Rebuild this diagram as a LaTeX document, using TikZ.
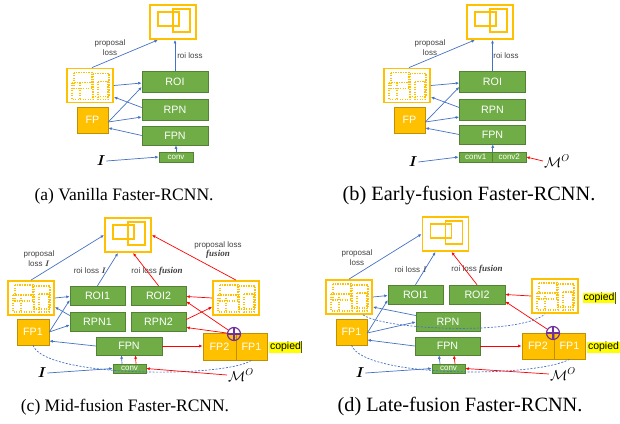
\documentclass[tikz,border=0pt]{standalone}
\usepackage{amsmath,amssymb}
\usepackage{bm}
\usepackage{fontspec}
\setmainfont{Liberation Serif}
\newfontfamily\boxfont{Liberation Sans}
\usetikzlibrary{arrows.meta}

\definecolor{boxyellow}{HTML}{FFC000}
\definecolor{fpborder}{HTML}{BF9000}
\definecolor{stagegreen}{HTML}{70AD47}
\definecolor{stageedge}{HTML}{548235}
\definecolor{flowblue}{HTML}{4472C4}
\definecolor{flowred}{HTML}{FF0000}
\definecolor{sumpurple}{HTML}{7030A0}
\definecolor{marker}{HTML}{FFFF00}

\newcommand{\fusionword}{{\rmfamily\bfseries\itshape\fontsize{9}{10}\selectfont fusion}}

\tikzset{
  stage/.style={draw=stageedge, line width=0.5pt, fill=stagegreen, text=white, inner sep=0pt,
    font={\boxfont\fontsize{10.7}{12}\selectfont}},
  convbox/.style={stage, font={\boxfont\fontsize{8}{9}\selectfont}},
  fpbox/.style={draw=fpborder, line width=0.6pt, fill=boxyellow, text=white, inner sep=0pt,
    font={\boxfont\fontsize{10.7}{12}\selectfont}},
  outbox/.style={draw=boxyellow, line width=1.8pt, fill=white, inner sep=0pt,
    minimum width=46pt, minimum height=34pt},
  note/.style={align=center, inner sep=0pt, text=black!75,
    font={\boxfont\fontsize{8}{9.3}\selectfont}},
  inlabel/.style={inner sep=1pt, font={\fontsize{14}{16}\selectfont}},
  copiedtag/.style={fill=marker, inner sep=0.6pt, font={\boxfont\fontsize{10.5}{12}\selectfont}},
  summer/.style={circle, draw=sumpurple, line width=1.2pt, minimum size=13pt, inner sep=0pt,
    path picture={\draw[sumpurple, line width=1.2pt]
      (path picture bounding box.north) -- (path picture bounding box.south)
      (path picture bounding box.west) -- (path picture bounding box.east);}},
  blueflow/.style={draw=flowblue, line width=0.7pt, -{Latex[length=3.5pt,width=3pt]}},
  redflow/.style={draw=flowred, line width=0.7pt, -{Latex[length=3.5pt,width=3pt]}},
  feedback/.style={draw=flowblue, line width=0.7pt, dash pattern=on 2pt off 1.5pt},
  cursorbar/.style={draw=black!70, line width=0.6pt},
  caption/.style={inner sep=0pt, font={\fontsize{17.5}{20}\selectfont}},
  widecaption/.style={inner sep=0pt, font={\fontsize{20.3}{23}\selectfont}}
}

% detections drawn inside the output box
\newcommand{\detmarks}[1]{%
  \begin{scope}[shift={(#1.center)}]
    \draw[boxyellow, line width=1.5pt] (-15,-10) rectangle (6,4);
    \draw[boxyellow, line width=1.5pt] (0,-13) rectangle (17,10);
  \end{scope}}
% dotted proposals inside the proposal box
\newcommand{\propmarks}[1]{%
  \begin{scope}[shift={(#1.center)}, boxyellow, line width=1.2pt, dash pattern=on 1.2pt off 1.3pt]
    \draw (-16,-13) rectangle (2,3);
    \draw (-18,-3) rectangle (3,14);
    \draw (-10,-3) -- (-10,14);
    \draw (3,-12) rectangle (19,11);
    \draw (8,-4) rectangle (18,14);
  \end{scope}}

\begin{document}
\begin{tikzpicture}[x=1pt, y=-1pt]
  \useasboundingbox (0,0) rectangle (620,423);

  % (a) vanilla
  \node[outbox] (outA) at (173,22) {}; \detmarks{outA}
  \node[outbox] (propA) at (90,85.5) {}; \propmarks{propA}
  \node[fpbox, minimum width=31pt, minimum height=26pt] (fpA) at (92.5,120) {FP};
  \node[stage, minimum width=66pt, minimum height=21pt] (roiA) at (175,82) {ROI};
  \node[stage, minimum width=66pt, minimum height=21pt] (rpnA) at (175,109.5) {RPN};
  \node[stage, minimum width=66pt, minimum height=19pt] (fpnA) at (175,135.5) {FPN};
  \node[convbox, minimum width=34pt, minimum height=10pt] (convA) at (176,157) {conv};
  \node[inlabel] (imgA) at (101,161) {$\bm{I}$};
  \node[note] (plA) at (110,47.5) {proposal\\loss};
  \node[note] (rlA) at (190,56) {roi loss};
  \draw[blueflow] (imgA.east) -- (convA.west);
  \draw[blueflow] (convA.north) -- (convA.north |- fpnA.south);
  \draw[blueflow] (fpnA.west) -- ([shift={(0,8)}]fpA.east);
  \draw[blueflow] ([shift={(0,2)}]fpA.east) -- ([shift={(0,7.5)}]rpnA.west);
  \draw[blueflow] ([shift={(0,2)}]fpA.east) -- ([shift={(0,5)}]roiA.west);
  \draw[blueflow] ([shift={(0,-2)}]rpnA.west) -- ([shift={(0,11.5)}]propA.east);
  \draw[blueflow] (propA.east) -- ([shift={(0,1)}]roiA.west);
  \draw[blueflow] ([shift={(2,0)}]propA.north) -- ([shift={(-15,0)}]outA.south);
  \draw[blueflow] (roiA.north) -- (roiA.north |- outA.south);

  % (b) early fusion
  \node[outbox] (outB) at (490,22) {}; \detmarks{outB}
  \node[outbox] (propB) at (407,85.5) {}; \propmarks{propB}
  \node[fpbox, minimum width=31pt, minimum height=26pt] (fpB) at (409.5,120) {FP};
  \node[stage, minimum width=66pt, minimum height=21pt] (roiB) at (492.5,82) {ROI};
  \node[stage, minimum width=66pt, minimum height=21pt] (rpnB) at (492.5,109.5) {RPN};
  \node[stage, minimum width=66pt, minimum height=19pt] (fpnB) at (492.5,134.5) {FPN};
  \node[convbox, minimum width=33.5pt, minimum height=10pt] (conv1B) at (475.75,157) {conv1};
  \node[convbox, minimum width=33.5pt, minimum height=10pt] (conv2B) at (509.25,157) {conv2};
  \node[inlabel] (imgB) at (413,162) {$\bm{I}$};
  \node[inlabel] (mapB) at (557,161) {$\mathcal{M}^{O}$};
  \node[note] (plB) at (430,47.5) {proposal\\loss};
  \node[note] (rlB) at (506,56) {roi loss};
  \draw[blueflow] (imgB.east) -- (conv1B.west);
  \draw[redflow] (mapB.west) -- (conv2B.east);
  \draw[blueflow] (conv1B.north east) -- (conv1B.north east |- fpnB.south);
  \draw[blueflow] (fpnB.west) -- ([shift={(0,8)}]fpB.east);
  \draw[blueflow] ([shift={(0,2)}]fpB.east) -- ([shift={(0,7.5)}]rpnB.west);
  \draw[blueflow] ([shift={(0,2)}]fpB.east) -- ([shift={(0,5)}]roiB.west);
  \draw[blueflow] ([shift={(0,-2)}]rpnB.west) -- ([shift={(0,11.5)}]propB.east);
  \draw[blueflow] (propB.east) -- ([shift={(0,1)}]roiB.west);
  \draw[blueflow] ([shift={(2,0)}]propB.north) -- ([shift={(-15,0)}]outB.south);
  \draw[blueflow] (roiB.north) -- (roiB.north |- outB.south);

  % (c) mid fusion
  \node[outbox] (outC) at (128,235) {}; \detmarks{outC}
  \node[outbox] (propC) at (31,298) {}; \propmarks{propC}
  \node[outbox] (prop2C) at (236,298) {}; \propmarks{prop2C}
  \node[fpbox, minimum width=32pt, minimum height=26pt] (fp1C) at (33,332) {FP1};
  \node[stage, minimum width=55pt, minimum height=19pt] (roi1C) at (97.5,295.5) {ROI1};
  \node[stage, minimum width=55pt, minimum height=19pt] (rpn1C) at (97.5,321.5) {RPN1};
  \node[stage, minimum width=55pt, minimum height=19pt] (roi2C) at (158.5,295.5) {ROI2};
  \node[stage, minimum width=55pt, minimum height=19pt] (rpn2C) at (158.5,321.5) {RPN2};
  \node[stage, minimum width=66pt, minimum height=18pt] (fpnC) at (129,346) {FPN};
  \node[convbox, minimum width=33pt, minimum height=9pt] (convC) at (129.5,368.5) {conv};
  \node[fpbox, minimum width=33pt, minimum height=27pt] (fp2C) at (219.5,346.5) {FP2};
  \node[fpbox, minimum width=31pt, minimum height=27pt] (fp1bC) at (251.5,346.5) {FP1};
  \node[copiedtag] (cpC) at (285.5,347) {copied};
  \draw[cursorbar] (cpC.north east) -- (cpC.south east);
  \node[summer] (sumC) at (234,334) {};
  \node[inlabel] (imgC) at (42,373) {$\bm{I}$};
  \node[inlabel] (mapC) at (241,375) {$\mathcal{M}^{O}$};
  \node[note] (plC) at (39,258.5) {proposal\\loss $\bm{I}$};
  \node[note] (rl1C) at (90,271) {roi loss $\bm{I}$};
  \node[note] (rl2C) at (157,271) {roi loss \fusionword};
  \node[note] (pl2C) at (218,250) {proposal loss\\\fusionword};
  \draw[feedback] (fp1C.south) .. controls (45,378) and (225,378) .. (fp1bC.south);
  \draw[blueflow] (imgC.east) -- (convC.west);
  \draw[redflow] (mapC.west) -- (convC.east);
  \draw[blueflow] ([shift={(-7.5,0)}]convC.north) -- ([shift={(-7.5,0)}]fpnC.south);
  \draw[redflow] ([shift={(6.5,0)}]convC.north) -- ([shift={(6.5,0)}]fpnC.south);
  \draw[blueflow] (fpnC.west) -- ([shift={(0,9)}]fp1C.east);
  \draw[blueflow] (fp1C.east) -- ([shift={(0,3.5)}]rpn1C.west);
  \draw[blueflow] (fp1C.east) -- ([shift={(0,4.5)}]roi1C.west);
  \draw[blueflow] ([shift={(0,-6)}]rpn1C.west) -- ([shift={(0,9)}]propC.east);
  \draw[blueflow] (propC.east) -- ([shift={(0,1)}]roi1C.west);
  \draw[blueflow] (propC.north) -- (outC.west);
  \draw[blueflow] (roi1C.north) -- ([shift={(-10,0)}]outC.south);
  \draw[redflow] (fpnC.east) -- (fpnC.east -| fp2C.west);
  \draw[redflow] (sumC) -- ([shift={(0,6)}]rpn2C.east);
  \draw[redflow] (sumC) -- ([shift={(0,6)}]roi2C.east);
  \draw[redflow] (prop2C.west) -- ([shift={(0,1)}]roi2C.east);
  \draw[redflow] ([shift={(0,-2)}]rpn2C.east) -- ([shift={(0,9)}]prop2C.west);
  \draw[redflow] (prop2C.north) -- (outC.east);
  \draw[redflow] (roi2C.north) -- ([shift={(5,0)}]outC.south);

  % (d) late fusion
  \node[outbox] (outD) at (445.5,234) {}; \detmarks{outD}
  \node[outbox] (propD) at (349,297) {}; \propmarks{propD}
  \node[outbox] (prop2D) at (555,296) {}; \propmarks{prop2D}
  \node[fpbox, minimum width=31pt, minimum height=26pt] (fp1D) at (351.5,332) {FP1};
  \node[stage, minimum width=55pt, minimum height=19pt] (roi1D) at (415.5,294.5) {ROI1};
  \node[stage, minimum width=56pt, minimum height=19pt] (roi2D) at (477,294.5) {ROI2};
  \node[stage, minimum width=64pt, minimum height=19pt] (rpnD) at (448,321.5) {RPN};
  \node[stage, minimum width=65pt, minimum height=18pt] (fpnD) at (447.5,346) {FPN};
  \node[convbox, minimum width=33pt, minimum height=9pt] (convD) at (448.5,368.5) {conv};
  \node[fpbox, minimum width=32pt, minimum height=26pt] (fp2D) at (538,346) {FP2};
  \node[fpbox, minimum width=31pt, minimum height=26pt] (fp1bD) at (569.5,346) {FP1};
  \node[copiedtag] (cp1D) at (603.5,347) {copied};
  \node[copiedtag] (cp2D) at (599,298) {copied};
  \draw[cursorbar] (cp2D.north east) -- (cp2D.south east);
  \node[summer] (sumD) at (553,333) {};
  \node[inlabel] (imgD) at (360,373) {$\bm{I}$};
  \node[inlabel] (mapD) at (563,374) {$\mathcal{M}^{O}$};
  \node[note] (plD) at (357,257.5) {proposal\\loss};
  \node[note] (rl1D) at (411,270) {roi loss $\bm{I}$};
  \node[note] (rl2D) at (477,269) {roi loss \fusionword};
  \draw[feedback] ([shift={(14,0)}]propD.south) .. controls (385,330) and (520,336) .. ([shift={(-10,0)}]prop2D.south);
  \draw[feedback] (fp1D.south) .. controls (364,378) and (535,378) .. (fp1bD.south);
  \draw[blueflow] (imgD.east) -- (convD.west);
  \draw[redflow] (mapD.west) -- (convD.east);
  \draw[blueflow] ([shift={(-8.5,0)}]convD.north) -- ([shift={(-8.5,0)}]fpnD.south);
  \draw[redflow] ([shift={(6.5,0)}]convD.north) -- ([shift={(6.5,0)}]fpnD.south);
  \draw[blueflow] (fpnD.west) -- ([shift={(0,8)}]fp1D.east);
  \draw[blueflow] ([shift={(0,1)}]fp1D.east) -- ([shift={(0,0.5)}]rpnD.west);
  \draw[blueflow] ([shift={(0,1)}]fp1D.east) -- ([shift={(0,5.5)}]roi1D.west);
  \draw[blueflow] ([shift={(0,-6)}]rpnD.west) -- ([shift={(0,10)}]propD.east);
  \draw[blueflow] (propD.east) -- ([shift={(0,1)}]roi1D.west);
  \draw[blueflow] (propD.north) -- (outD.west);
  \draw[blueflow] (roi1D.north) -- ([shift={(-10,0)}]outD.south);
  \draw[redflow] (fpnD.east) -- (fpnD.east -| fp2D.west);
  \draw[redflow] (sumD) -- ([shift={(0,7)}]roi2D.east);
  \draw[redflow] (prop2D.west) -- (roi2D.east);
  \draw[redflow] (roi2D.north) -- ([shift={(6,0)}]outD.south);

  % captions
  \node[caption] (capA) at (124,196) {(a) Vanilla Faster-RCNN.};
  \node[widecaption] (capB) at (469,196) {(b) Early-fusion Faster-RCNN.};
  \node[caption] (capC) at (125,407) {(c) Mid-fusion Faster-RCNN.};
  \node[widecaption] (capD) at (460,407) {(d) Late-fusion Faster-RCNN.};
\end{tikzpicture}
\end{document}
